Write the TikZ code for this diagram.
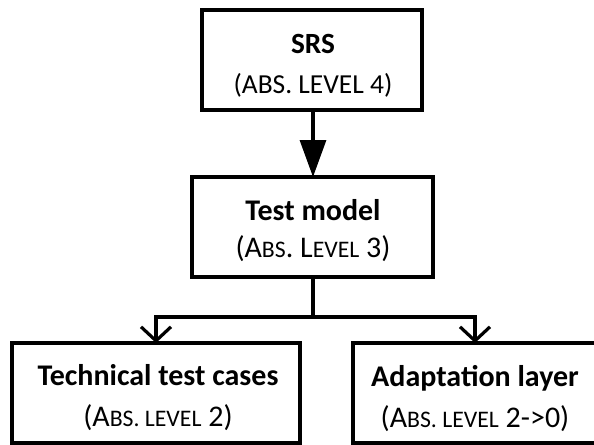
\documentclass[tikz,border=0pt]{standalone}
\usepackage{fontspec}
\setmainfont{Carlito}
\usetikzlibrary{arrows.meta}
\newcommand\smc[1]{{\fontsize{17.8pt}{19pt}\selectfont #1}}
\begin{document}
\begin{tikzpicture}[x=0.75pt,y=-0.75pt,
  box/.style={draw=black,line width=2.4pt,fill=none},
  conn/.style={line width=2.4pt},
  title/.style={anchor=base,inner sep=0pt,font=\fontsize{22.5pt}{24pt}\selectfont\bfseries},
  sub/.style={anchor=base,inner sep=0pt,font=\fontsize{22.5pt}{24pt}\selectfont},
  bigarrow/.style={-{Triangle[length=27.75pt,width=19.5pt]}},
  openarrow/.style={-{Straight Barb[length=10.5pt,width=22.5pt,line width=2.4pt]}}]
\useasboundingbox (0,0) rectangle (594,444);
\fill[white] (0,0) rectangle (594,444);
\clip (0,0) rectangle (594,444);
% boxes
\draw[box] (202,10) rectangle (422,110);
\coordinate (srsS) at (313,110);
\draw[box] (192,177) rectangle (433,277);
\coordinate (tmN) at (313,177);
\coordinate (tmS) at (313,277);
\draw[box] (12,343) rectangle (300,443);
\coordinate (ttN) at (156,343);
\draw[box] (353,343) rectangle (600,443);
\coordinate (alN) at (475,343);
% texts
\node[title,font=\fontsize{22pt}{24pt}\selectfont\bfseries] (t1) at (313,53) {SRS};
\node[sub,font=\fontsize{20.6pt}{22pt}\selectfont] (s1) at (313,93) {(ABS. LEVEL 4)};
\node[title] (t2) at (313,220) {Test model};
\node[sub] (s2) at (313,257) {(A\smc{BS}. L\smc{EVEL} 3)};
\node[title] (t3) at (158,385) {Technical test cases};
\node[sub] (s3) at (158,426) {(A\smc{BS. LEVEL} 2)};
\node[title] (t4) at (475,386) {Adaptation layer};
\node[sub] (s4) at (475,427) {(A\smc{BS. LEVEL} 2->0)};
% connectors
\coordinate (jL) at (156,317);
\coordinate (jM) at (313,317);
\coordinate (jR) at (475,317);
\draw[conn,bigarrow] (srsS) -- (tmN);
\draw[conn] (tmS) -- (jM);
\draw[conn,line cap=rect] (jL) -- (jR);
\draw[conn,openarrow] (jL) -- (ttN);
\draw[conn,openarrow] (jR) -- (alN);
\end{tikzpicture}
\end{document}
